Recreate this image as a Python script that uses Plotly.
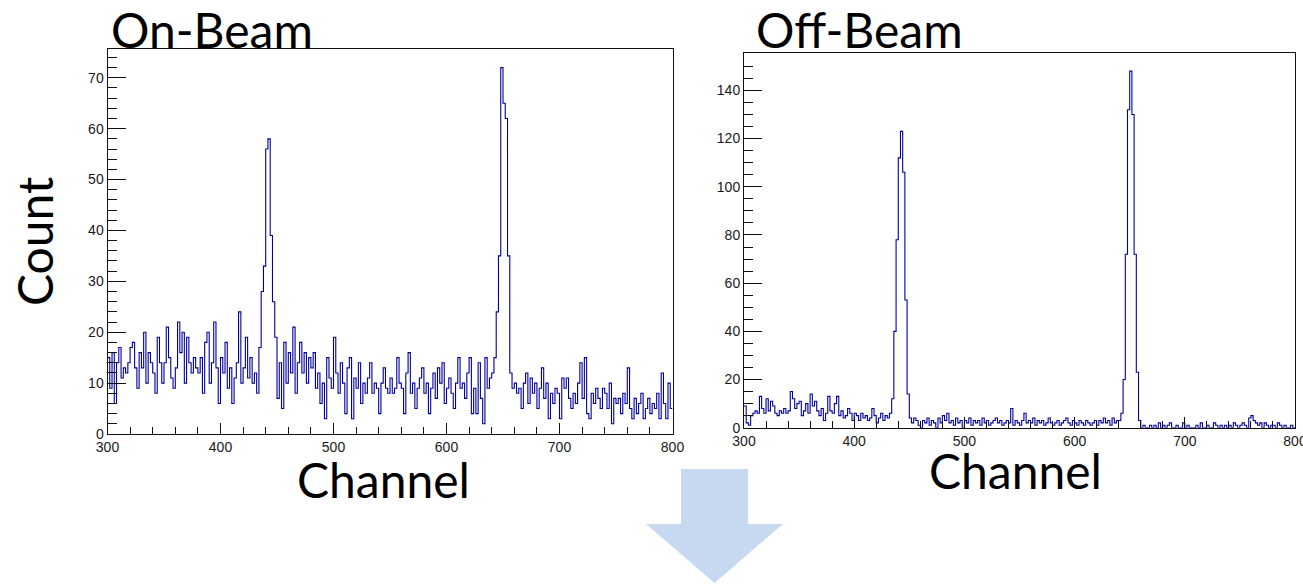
import numpy as np
import plotly.graph_objects as go

# ---------------- data ----------------
BIN_START = 300
BIN_WIDTH = 2

on_beam_counts = [
    15, 9, 16, 6, 14,  17, 11, 13, 12, 14,  17, 18, 13, 9, 16,  13, 20, 10, 16, 14,
    12, 8, 19, 14, 10,  14, 21, 15, 11, 9,  13, 22, 16, 20, 10,  19, 14, 12, 15, 13,
    12, 15, 8, 18, 20,  10, 14, 22, 13, 6,  15, 12, 18, 9, 13,  6, 11, 14, 24, 10,
    13, 19, 11, 15, 10,  12, 8, 17, 28, 33,  56, 58, 39, 26, 19,  7, 14, 5, 18, 10,
    16, 12, 21, 8, 14,  18, 12, 16, 10, 15,  13, 16, 9, 12, 6,  10, 3, 15, 11, 9,
    19, 12, 8, 14, 10,  4, 13, 15, 3, 11,  9, 14, 6, 10, 8,  11, 14, 8, 10, 9,
    4, 10, 13, 9, 8,  11, 8, 9, 15, 10,  9, 4, 12, 16, 8,  10, 5, 9, 11, 13,
    8, 10, 4, 9, 12,  7, 13, 10, 14, 6,  9, 11, 8, 5, 10,  15, 9, 10, 7, 12,
    15, 4, 9, 4, 14,  7, 2, 15, 9, 11,  12, 15, 24, 35, 72,  65, 62, 35, 12, 9,
    10, 8, 9, 5, 10,  12, 6, 11, 8, 10,  5, 9, 13, 7, 10,  3, 8, 6, 9, 8,
    3, 11, 9, 11, 7,  5, 8, 6, 10, 14,  7, 15, 4, 3, 8,  6, 9, 7, 5, 9,
    8, 5, 10, 2, 7,  6, 7, 4, 8, 6,  13, 5, 3, 7, 4,  6, 8, 3, 5, 7,
    4, 6, 5, 8, 3,  12, 6, 3, 10, 5,
]

off_beam_counts = [
    9, 2, 1, 5, 6,  7, 6, 13, 8, 6,  12, 7, 11, 9, 6,  5, 7, 6, 8, 6,
    7, 15, 12, 8, 10,  11, 5, 7, 10, 6,  14, 9, 11, 7, 5,  8, 3, 6, 13, 7,
    6, 10, 13, 5, 7,  4, 5, 8, 6, 3,  6, 5, 3, 6, 4,  5, 3, 4, 8, 5,
    2, 4, 6, 3, 5,  4, 6, 12, 40, 78,  112, 123, 106, 53, 14,  4, 2, 4, 3, 1,
    0, 3, 2, 4, 1,  3, 2, 0, 4, 2,  5, 3, 6, 2, 3,  1, 4, 2, 3, 0,
    3, 2, 4, 1, 3,  2, 3, 1, 4, 2,  3, 1, 2, 3, 4,  2, 3, 1, 2, 3,
    2, 8, 1, 3, 2,  1, 3, 6, 2, 3,  2, 4, 1, 3, 2,  3, 1, 2, 4, 2,
    1, 2, 3, 1, 2,  3, 4, 2, 1, 3,  2, 1, 3, 2, 1,  3, 2, 1, 2, 3,
    1, 3, 2, 4, 2,  3, 1, 4, 2, 3,  3, 6, 20, 72, 132,  148, 130, 72, 23, 3,
    0, 1, 0, 0, 1,  0, 1, 0, 2, 0,  1, 0, 1, 2, 0,  0, 1, 0, 0, 2,
    0, 1, 0, 0, 0,  1, 0, 2, 0, 0,  1, 0, 0, 2, 1,  0, 1, 0, 1, 0,
    1, 0, 2, 1, 0,  1, 2, 1, 0, 4,  5, 3, 2, 1, 2,  0, 2, 1, 0, 1,
    1, 0, 2, 1, 0,  1, 0, 0, 1, 0,
]

panel_titles = ["On-Beam", "Off-Beam"]
x_title = "Channel"
y_title = "Count"

# ---------------- figure ----------------
W, H = 1303, 584
LINE = "rgb(0,0,155)"
AX = "#111111"
TICKFONT = dict(family="Liberation Sans, Arial, sans-serif", size=14, color="#1a1a1a")
BIGFONT = dict(family="Lato, Calibri, sans-serif", size=48, color="black")


def fx(px):  # page pixel x -> paper
    return px / W


def fy(py):  # page pixel y -> paper
    return 1 - py / H


def step_xy(counts):
    edges = BIN_START + BIN_WIDTH * np.arange(len(counts) + 1)
    ys = list(counts) + [counts[-1]]
    return edges, ys


fig = go.Figure()
for i, counts in enumerate([on_beam_counts, off_beam_counts]):
    ex, ey = step_xy(counts)
    fig.add_trace(go.Scatter(
        x=ex, y=ey, mode="lines", line=dict(color=LINE, width=1.1, shape="hv"),
        xaxis="x" if i == 0 else "x2", yaxis="y" if i == 0 else "y2",
        showlegend=False, hoverinfo="skip"))

common_x = dict(range=[300, 800], tick0=300, dtick=100, ticks="inside", ticklen=11,
                tickcolor=AX, tickwidth=1, showline=True, linecolor=AX, linewidth=1,
                mirror=True, showgrid=False, zeroline=False, tickfont=TICKFONT,
                automargin=False, ticklabeloverflow="allow",
                minor=dict(dtick=20, ticks="inside", ticklen=7, tickcolor=AX, showgrid=False))

common_y = dict(tick0=0, ticks="inside", ticklen=18, tickcolor=AX, showline=True,
                linecolor=AX, linewidth=1, mirror=True, showgrid=False, zeroline=False,
                tickfont=TICKFONT, automargin=False)

fig.update_layout(
    width=W, height=H, margin=dict(l=0, r=0, t=0, b=0, autoexpand=False),
    paper_bgcolor="white", plot_bgcolor="white",
    xaxis=dict(domain=[fx(107.5), fx(672.5)], anchor="y", **common_x),
    yaxis=dict(domain=[fy(434), fy(49.3)], anchor="x", range=[0, 75.6], dtick=10,
               minor=dict(dtick=2, ticks="inside", ticklen=9, tickcolor=AX, showgrid=False),
               **common_y),
    xaxis2=dict(domain=[fx(744), fx(1295)], anchor="y2", **common_x),
    yaxis2=dict(domain=[fy(427.7), fy(53.3)], anchor="x2", range=[0, 155.4], dtick=20,
                minor=dict(dtick=5, ticks="inside", ticklen=9, tickcolor=AX, showgrid=False),
                **common_y),
)

annots = [
    dict(text=panel_titles[0], x=fx(109), y=fy(29), xanchor="left", yanchor="middle"),
    dict(text=panel_titles[1], x=fx(754), y=fy(29), xanchor="left", yanchor="middle"),
    dict(text=x_title, x=fx(383), y=fy(479), xanchor="center", yanchor="middle"),
    dict(text=x_title, x=fx(1015), y=fy(471), xanchor="center", yanchor="middle"),
    dict(text=y_title, x=fx(34), y=fy(242), xanchor="center", yanchor="middle", textangle=-90),
]
for a in annots:
    fig.add_annotation(xref="paper", yref="paper", showarrow=False, font=BIGFONT, **a)

# decorative down arrow
pts = [(681, 469), (748, 469), (748, 524), (783, 524), (714.5, 583), (646, 524), (681, 524)]
path = "M " + " L ".join(f"{fx(x):.5f},{fy(y):.5f}" for x, y in pts) + " Z"
fig.add_shape(type="path", xref="paper", yref="paper", path=path,
              fillcolor="rgb(198,217,240)", line=dict(width=0))

fig.write_html("out.html",
               config={"displayModeBar": False, "staticPlot": True},
               post_script="document.body.style.margin='0';document.body.style.overflow='hidden';")
